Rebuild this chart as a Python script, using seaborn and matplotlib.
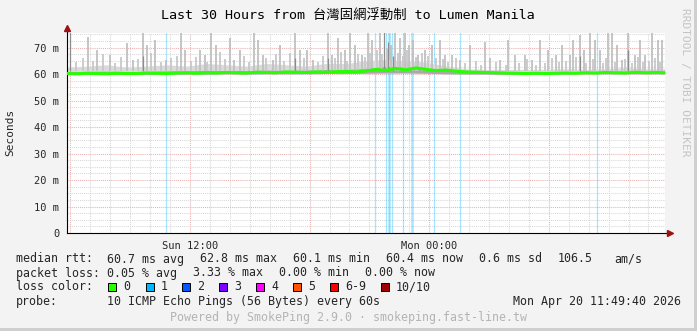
import numpy as np
import pandas as pd
import matplotlib
matplotlib.use("Agg")
import matplotlib.pyplot as plt
import seaborn as sns

# ---------------- data ----------------
title = "Last 30 Hours from 台灣固網浮動制 to Lumen Manila"
start_time = pd.Timestamp("2026-04-19 05:49:40")
span_hours = 30
y_max = 75.5

# median rtt every 30 min (hours since start)
median_hours = [i * 0.5 for i in range(61)]
median_ms = [60.2, 60.1, 60.3, 60.2, 60.1, 60.3, 60.2, 60.2, 60.4, 60.3,
             60.2, 60.4, 60.5, 60.3, 60.5, 60.4, 60.6, 60.5, 60.4, 60.7,
             60.6, 60.5, 60.8, 60.7, 60.6, 60.8, 60.7, 60.9, 61.0, 60.8,
             61.2, 61.7, 61.4, 62.1, 61.6, 62.3, 61.8, 61.3, 61.5, 61.1,
             60.8, 60.7, 60.6, 60.5, 60.4, 60.3, 60.2, 60.3, 60.2, 60.3,
             60.4, 60.3, 60.5, 60.4, 60.6, 60.5, 60.4, 60.7, 60.5, 60.6, 60.5]

# smoke band, hourly
smoke_hours = list(range(31))
smoke_lo = [59.9, 59.9, 60.0, 59.9, 59.9, 60.0, 60.0, 60.0, 60.1, 60.0,
            60.1, 60.1, 60.1, 60.2, 60.2, 60.3, 60.4, 60.4, 60.3, 60.1,
            60.0, 60.0, 59.9, 60.0, 60.0, 60.0, 60.1, 60.1, 60.1, 60.1, 60.1]
smoke_mid = [60.9, 61.0, 61.1, 60.9, 61.0, 61.2, 61.2, 61.4, 61.3, 61.3,
             61.5, 61.4, 61.5, 61.7, 61.7, 62.2, 62.9, 62.7, 62.2, 61.5,
             61.0, 60.9, 60.8, 60.8, 60.8, 60.9, 60.9, 61.0, 61.1, 61.0, 61.0]
smoke_hi = [62.5, 63.0, 63.5, 62.5, 63.0, 63.5, 63.0, 64.0, 63.5, 63.0,
            64.0, 63.5, 63.0, 64.0, 64.0, 65.0, 65.5, 65.0, 64.5, 63.0,
            62.0, 61.8, 61.8, 61.8, 61.8, 62.0, 61.8, 62.0, 62.5, 62.0, 62.0]

# individual high pings (smoke spikes)
spike_hours = [1.05, 1.51, 2.16, 3.01, 3.31, 3.81, 4.01, 4.42, 4.97, 5.72,
               5.92, 6.67, 6.92, 7.23, 7.48, 8.18, 8.38, 8.68, 9.38, 9.58,
               9.83, 10.34, 10.69, 11.44, 11.69, 12.04, 12.34, 13.10, 13.30, 13.60,
               13.95, 14.20, 14.45, 14.80, 15.11, 15.31, 15.71, 16.26, 16.46, 16.71,
               16.96, 17.16, 17.36, 17.61, 17.96, 18.32, 18.72, 18.97, 19.32, 19.72,
               20.22, 20.98, 21.23, 21.73, 22.13, 22.48, 22.98, 23.33, 23.73, 24.14,
               24.54, 24.84, 25.24, 25.39, 25.74, 25.94, 26.24, 26.49, 26.75, 27.15,
               27.35, 27.60, 27.85, 28.15, 28.50, 28.75, 29.00, 29.35, 29.65, 29.85]
spike_ms = [74.0, 69.1, 67.2, 71.7, 65.3, 76.0, 70.9, 72.8, 65.3, 76.0,
            69.1, 69.1, 67.2, 76.0, 70.9, 73.6, 65.3, 69.1, 76.0, 72.8,
            67.2, 65.3, 70.9, 76.0, 69.1, 69.1, 65.3, 76.0, 67.2, 73.6,
            69.1, 76.0, 70.9, 67.2, 76.0, 72.8, 76.0, 70.9, 76.0, 73.6,
            76.0, 70.9, 72.8, 67.2, 69.1, 70.9, 72.8, 67.2, 67.2, 65.3,
            70.9, 72.1, 66.0, 65.3, 72.8, 67.2, 67.2, 65.3, 72.8, 69.1,
            67.2, 70.9, 67.2, 72.8, 74.7, 69.1, 76.0, 72.8, 69.1, 76.0,
            76.0, 70.9, 65.3, 76.0, 67.2, 72.8, 67.2, 76.0, 72.8, 72.8]
small_spike_hours = [0.45, 0.8, 1.3, 1.8, 2.4, 2.7, 3.55, 4.2, 4.7, 5.2,
                     5.5, 6.2, 6.45, 7.0, 7.7, 7.95, 8.9, 9.15, 10.0, 10.5,
                     10.9, 11.2, 11.9, 12.6, 12.85, 13.45, 13.75, 14.05, 14.6, 14.95,
                     15.2, 15.55, 15.8, 16.05, 16.6, 16.85, 17.05, 17.5, 17.8, 18.1,
                     18.5, 18.85, 19.1, 19.5, 19.95, 20.5, 20.75, 21.5, 22.0, 22.7,
                     23.1, 23.55, 24.0, 24.35, 24.7, 25.05, 25.55, 26.05, 26.4, 26.9,
                     27.05, 27.5, 28.0, 28.35, 28.65, 28.9, 29.2, 29.5, 29.75]
small_spike_ms = [64.5, 66.0, 65.0, 67.5, 64.0, 66.5, 65.5, 68.0, 64.5, 66.0,
                  67.0, 65.0, 66.5, 64.5, 68.5, 65.5, 67.0, 64.5, 66.0, 67.5,
                  65.0, 68.0, 66.0, 64.5, 67.0, 66.0, 68.5, 65.0, 67.5, 66.5,
                  68.0, 69.0, 67.5, 69.5, 68.0, 67.0, 69.0, 66.5, 68.0, 67.0,
                  66.0, 65.5, 64.5, 66.0, 64.0, 65.0, 63.5, 64.5, 63.5, 64.0,
                  65.5, 63.5, 64.0, 66.0, 64.5, 65.0, 66.5, 64.0, 65.5, 64.0,
                  66.0, 64.5, 65.5, 64.0, 66.5, 64.5, 65.0, 66.0, 64.5]
dark_spike_hours = [0.15, 15.91, 16.11, 16.36, 3.81, 11.44, 28.15, 13.1, 25.74]
dark_spike_ms = [76.0, 76.0, 72.0, 67.0, 67.0, 66.0, 69.0, 66.0, 67.0]

# packet loss events (1 of 10 lost)
loss_hours = [4.97, 15.45, 16.00, 16.16, 16.31, 16.84, 17.30, 18.41, 19.72, 26.58]
loss_width = [1.0, 1.0, 1.0, 2.0, 1.0, 1.0, 2.0, 1.0, 1.0, 1.0]

x_tick_labels = ["Sun 12:00", "Mon 00:00"]
y_ticks = [0, 10, 20, 30, 40, 50, 60, 70]
y_tick_labels = ["0", "10 m", "20 m", "30 m", "40 m", "50 m", "60 m", "70 m"]

legend_rows = [
    [(16, "median rtt:"), (107, "60.7 ms avg"), (200, "62.8 ms max"), (293, "60.1 ms min"),
     (386, "60.4 ms now"), (479, "0.6 ms sd"), (558, "106.5"), (614, "am/s")],
    [(16, "packet loss:"), (107, "0.05 % avg"), (193, "3.33 % max"), (279, "0.00 % min"),
     (365, "0.00 % now")],
]
loss_names = ["0", "1", "2", "3", "4", "5", "6-9", "10/10"]
loss_colors = ["#26ff00", "#00b8ff", "#0059ff", "#7e00ff", "#ff00ff", "#ff5500", "#ff0000", "#a10000"]
probe_text = "10 ICMP Echo Pings (56 Bytes) every 60s"
date_text = "Mon Apr 20 11:49:40 2026"
footer = "Powered by SmokePing 2.9.0 · smokeping.fast-line.tw"

# ---------------- style ----------------
sns.set_style("white")
plt.rcParams['font.family'] = ['DejaVu Sans Mono', 'Noto Sans CJK TC']
W, H = 697, 331
fig = plt.figure(figsize=(W / 100, H / 100), dpi=100)
fig.patch.set_facecolor("#f3f3f3")

def fx(px):
    return px / W

def fy(py):
    return 1 - py / H

ax = fig.add_axes([fx(67), fy(233), 598 / W, 200 / H])
ax.set_facecolor("white")
ax.set_xlim(0, span_hours)
ax.set_ylim(0, y_max)

# grid
hour_marks = pd.date_range(start_time.ceil("h"), start_time + pd.Timedelta(hours=span_hours), freq="h")
hour_pos = [(t - start_time).total_seconds() / 3600 for t in hour_marks]
major_pos = [p for p, t in zip(hour_pos, hour_marks) if t.hour % 6 == 0]
label_pos = [p for p, t in zip(hour_pos, hour_marks) if t.hour % 12 == 0]
dot = (0, (1, 1))
for p in hour_pos:
    if p not in major_pos:
        ax.axvline(p, color="#d8d8d8", lw=0.75, ls=dot, zorder=0)
for p in major_pos:
    ax.axvline(p, color="#eab0b0", lw=0.75, ls=dot, zorder=0)
for v in np.arange(0, y_max, 2.5):
    if v % 10 != 0:
        ax.axhline(v, color="#d8d8d8", lw=0.75, ls=dot, zorder=0)
for v in y_ticks[1:]:
    ax.axhline(v, color="#eab0b0", lw=0.75, ls=dot, zorder=0)

# loss lines
for h, w in zip(loss_hours, loss_width):
    ax.axvline(h, color="#00b8ff", alpha=0.35, lw=0.9 * w, zorder=1)

# smoke
ax.fill_between(smoke_hours, smoke_lo, smoke_hi, color="#dadada", lw=0, zorder=2)
ax.fill_between(smoke_hours, smoke_lo, smoke_mid, color="#a8a8a8", lw=0, zorder=2)
ax.vlines(small_spike_hours, 61, small_spike_ms, color="#c8c8c8", lw=1.3, zorder=2)
ax.vlines(spike_hours, 61, spike_ms, color="#c0c0c0", lw=1.3, zorder=2)
ax.vlines(dark_spike_hours, 61, dark_spike_ms, color="#8c8c8c", lw=0.9, zorder=2)

# median
df = pd.DataFrame({"hours": median_hours, "median": median_ms})
sns.lineplot(data=df, x="hours", y="median", ax=ax, color="#26ff00", lw=2.2, zorder=4)

ax.set_xlabel("")
ax.set_ylabel("")
for s in ["top", "right"]:
    ax.spines[s].set_visible(False)
for s in ["left", "bottom"]:
    ax.spines[s].set_color("black")
    ax.spines[s].set_linewidth(0.8)

ax.set_yticks(y_ticks)
ax.set_yticklabels(y_tick_labels, fontsize=7.5)
ax.set_yticks([v for v in np.arange(0, y_max, 2.5) if v % 10 != 0], minor=True)
ax.set_xticks(label_pos)
ax.set_xticklabels(x_tick_labels, fontsize=7.5)
ax.set_xticks(hour_pos, minor=True)
ax.tick_params(axis="both", which="major", length=3, width=0.7, color="black", pad=2.5, direction="out")
ax.tick_params(axis="both", which="minor", length=1.5, width=0.6, color="#555555", direction="out")
ax.tick_params(axis="x", which="major", pad=3)

# axis arrows
ax.plot([0, 0], [y_max, y_max + 2.3], color="black", lw=0.8, clip_on=False)
ax.plot([span_hours, span_hours + 0.25], [0, 0], color="black", lw=0.8, clip_on=False)
ax.plot([0], [y_max + 1.8], marker="^", color="#a01010", ms=4, clip_on=False)
ax.plot([span_hours + 0.25], [0], marker=">", color="#a01010", ms=4, clip_on=False)

# texts
fig.text(fx(348), fy(15), title, ha="center", va="center", fontsize=9.6,
         family=['DejaVu Sans Mono', 'Noto Sans CJK TC'], color="black")
fig.text(fx(10), fy(132), "Seconds", rotation=90, ha="center", va="center", fontsize=8)
fig.text(fx(685), fy(82), "RRDTOOL / TOBI OETIKER", rotation=270, ha="center", va="center",
         fontsize=8, color="#c4c4c4")

fs = 8.4
row_y = [259, 273, 287, 301]
for row, yy in zip(legend_rows, row_y[:2]):
    for xx, txt in row:
        fig.text(fx(xx), fy(yy), txt, ha="left", va="center", fontsize=fs)

fig.text(fx(16), fy(row_y[2]), "loss color:", ha="left", va="center", fontsize=fs)
sq_x = [108, 146, 182, 219, 256, 293, 330, 381]
for xx, name, col in zip(sq_x, loss_names, loss_colors):
    fig.patches.append(plt.Rectangle((fx(xx), fy(291)), 8 / W, 8 / H, transform=fig.transFigure,
                                     facecolor=col, edgecolor="black", lw=0.7))
    fig.text(fx(xx + 15), fy(row_y[2]), name, ha="left", va="center", fontsize=fs)

fig.text(fx(16), fy(row_y[3]), "probe:", ha="left", va="center", fontsize=fs)
fig.text(fx(107), fy(row_y[3]), probe_text, ha="left", va="center", fontsize=fs)
fig.text(fx(681), fy(row_y[3]), date_text, ha="right", va="center", fontsize=fs)
fig.text(fx(348), fy(318), footer, ha="center", va="center", fontsize=fs, color="#b4b4b4")

# frame shadow
fig.patches.append(plt.Rectangle((0, 0), 1, 3 / H, transform=fig.transFigure, facecolor="#cfcfcf", lw=0))
fig.patches.append(plt.Rectangle((1 - 3 / W, 0), 3 / W, 1, transform=fig.transFigure, facecolor="#cfcfcf", lw=0))

fig.savefig("out.png", dpi=100, facecolor=fig.get_facecolor())
